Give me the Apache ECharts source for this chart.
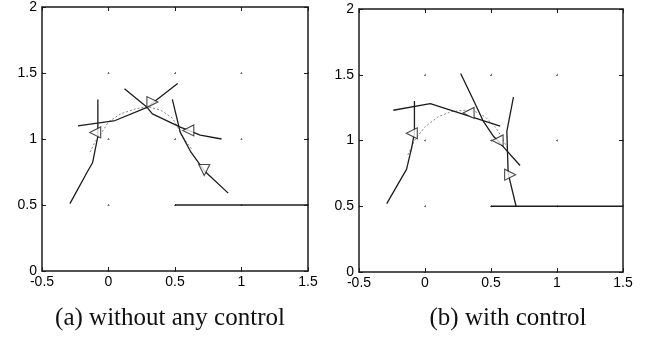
<!DOCTYPE html>
<html>
<head>
<meta charset="utf-8">
<script src="https://cdn.jsdelivr.net/npm/echarts@6/dist/echarts.min.js"></script>
<style>
  html, body { margin: 0; padding: 0; background: #fff; }
  #chart-container { width: 654px; height: 340px; }
</style>
</head>
<body>
<div id="chart-container"></div>
<script>
  // (a) without any control
  var a1 = [[-0.29, 0.51], [-0.16, 0.75], [-0.12, 0.82], [-0.08, 1.02], [-0.08, 1.30]];
  var a2 = [[-0.23, 1.10], [0.05, 1.14], [0.29, 1.24], [0.52, 1.42]];
  var a3 = [[0.12, 1.38], [0.29, 1.24], [0.33, 1.19], [0.54, 1.09], [0.69, 1.03], [0.85, 1.00]];
  var a4 = [[0.48, 1.30], [0.54, 1.05], [0.62, 0.90], [0.72, 0.76], [0.90, 0.59]];
  var a5 = [[0.5, 0.5], [1.5, 0.5]];
  var aRef = [[-0.14, 0.90], [-0.10, 0.98], [-0.05, 1.05], [0.0, 1.13], [0.09, 1.19], [0.21, 1.23],
              [0.29, 1.245], [0.39, 1.22], [0.48, 1.16], [0.52, 1.09], [0.55, 1.03], [0.59, 0.97], [0.63, 0.92]];
  var aMarks = [[-0.10, 1.05], [0.33, 1.28], [0.60, 1.065], [0.72, 0.765]];
  var aMarkDir = ['left', 'right', 'left', 'down'];

  // (b) with control
  var b1 = [[-0.29, 0.52], [-0.14, 0.78], [-0.10, 0.95], [-0.08, 1.06], [-0.08, 1.30]];
  var b2 = [[-0.24, 1.23], [0.04, 1.28], [0.57, 1.11]];
  var b3 = [[0.27, 1.51], [0.38, 1.28], [0.44, 1.15], [0.52, 1.03], [0.56, 0.99], [0.72, 0.81]];
  var b4 = [[0.67, 1.33], [0.62, 1.07], [0.63, 0.75], [0.69, 0.50]];
  var b5 = [[0.5, 0.5], [1.5, 0.5]];
  var bRef = [[-0.13, 0.89], [-0.08, 1.0], [0.0, 1.105], [0.1, 1.18], [0.2, 1.22], [0.3, 1.23],
              [0.38, 1.22], [0.455, 1.18], [0.53, 1.105], [0.58, 1.03], [0.62, 0.95]];
  var bMarks = [[-0.10, 1.055], [0.33, 1.21], [0.55, 1.0], [0.645, 0.74]];
  var bMarkDir = ['left', 'left', 'left', 'right'];

  var captions = ['(a) without any control', '(b) with control'];

  var dom = document.getElementById('chart-container');
  var myChart = echarts.init(dom, null, { renderer: 'canvas' });

  var ink = '#1c1c1c';
  var grids = [
    { left: 42, top: 7, width: 266, height: 264 },
    { left: 359, top: 9, width: 264, height: 263 }
  ];
  var rot = { up: 0, left: 90, down: 180, right: -90 };

  var xAxes = [], yAxes = [];
  grids.forEach(function (g, i) {
    var dotX = [2, g.height / 4 - 2];  // dots where grid lines cross
    var dotY = [2, g.width / 4 - 2];
    [['bottom', true], ['top', false]].forEach(function (p) {
      xAxes.push({
        type: 'value', gridIndex: i, position: p[0], min: -0.5, max: 1.5, interval: 0.5,
        axisLine: { show: true, onZero: false, lineStyle: { color: ink, width: 1.5 } },
        axisTick: { show: true, inside: true, length: 4, lineStyle: { color: ink } },
        axisLabel: { show: p[1], color: '#000', fontFamily: 'Liberation Sans', fontSize: 14, margin: 4 },
        splitLine: { show: p[1], lineStyle: { color: '#777', width: 1, type: dotX, dashOffset: 1 } }
      });
    });
    [['left', true], ['right', false]].forEach(function (p) {
      yAxes.push({
        type: 'value', gridIndex: i, position: p[0], min: 0, max: 2, interval: 0.5,
        axisLine: { show: true, onZero: false, lineStyle: { color: ink, width: 1.5 } },
        axisTick: { show: true, inside: true, length: 4, lineStyle: { color: ink } },
        axisLabel: { show: p[1], color: '#000', fontFamily: 'Liberation Sans', fontSize: 14, margin: 5 },
        splitLine: { show: p[1], lineStyle: { color: '#777', width: 1, type: dotY, dashOffset: 1 } }
      });
    });
  });

  function line(data, gi, dotted) {
    return {
      type: 'line', xAxisIndex: gi * 2, yAxisIndex: gi * 2, data: data,
      symbol: 'none', smooth: false, silent: true,
      lineStyle: dotted ? { color: '#888', width: 1, type: [2, 2] } : { color: ink, width: 1.3 }
    };
  }
  function marks(pts, dirs, gi) {
    return {
      type: 'scatter', xAxisIndex: gi * 2, yAxisIndex: gi * 2, symbol: 'triangle', symbolSize: [11, 11],
      itemStyle: { color: '#fff', borderColor: ink, borderWidth: 1.1 },
      data: pts.map(function (p, k) { return { value: p, symbolRotate: rot[dirs[k]] }; }),
      z: 5
    };
  }

  var series = [
    line(aRef, 0, true), line(a1, 0), line(a2, 0), line(a3, 0), line(a4, 0), line(a5, 0), marks(aMarks, aMarkDir, 0),
    line(bRef, 1, true), line(b1, 1), line(b2, 1), line(b3, 1), line(b4, 1), line(b5, 1), marks(bMarks, bMarkDir, 1)
  ];

  var option = {
    animation: false,
    backgroundColor: '#fff',
    grid: grids,
    xAxis: xAxes,
    yAxis: yAxes,
    series: series,
    graphic: [
      { type: 'text', x: 170, y: 318, style: { text: captions[0], font: '25px "Liberation Serif"', fill: '#111', align: 'center', verticalAlign: 'middle' } },
      { type: 'text', x: 508, y: 318, style: { text: captions[1], font: '25px "Liberation Serif"', fill: '#111', align: 'center', verticalAlign: 'middle' } }
    ]
  };

  myChart.setOption(option);
  window.addEventListener('resize', function () { myChart.resize(); });
</script>
</body>
</html>
